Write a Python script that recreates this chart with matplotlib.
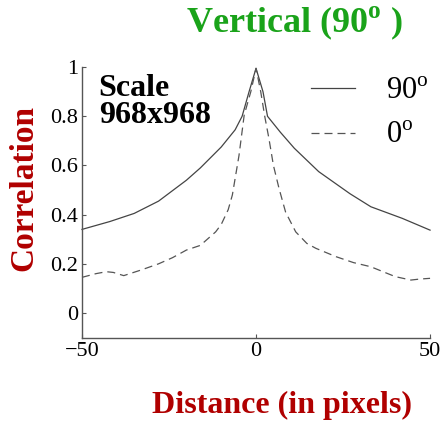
import matplotlib
matplotlib.use('Agg')
import numpy as np
import matplotlib.pyplot as plt

# datos
dist_90 = [-50, -42, -35, -28, -20, -16, -10, -6, -4, -2, 0, 2, 3.3, 7, 11, 18, 21.5, 27, 33, 42, 50]
corr_90 = [0.34, 0.372, 0.405, 0.455, 0.54, 0.59, 0.675, 0.745, 0.80, 0.90, 0.995, 0.90, 0.80,
           0.735, 0.67, 0.575, 0.54, 0.485, 0.432, 0.385, 0.337]

dist_0 = [-50, -46, -43, -41, -38, -33, -28, -24, -20, -16, -11.6, -10, -8, -6.8, -4.9, -3.4, -1.5, 0,
          1.35, 2.5, 3.7, 5, 6.6, 8.5, 11.4, 14.6, 17.2, 23, 28, 33, 37, 40, 44.5, 47, 50]
corr_0 = [0.145, 0.16, 0.168, 0.165, 0.152, 0.175, 0.20, 0.225, 0.256, 0.275, 0.33, 0.36, 0.42, 0.48,
          0.64, 0.805, 0.90, 0.995, 0.90, 0.80, 0.71, 0.60, 0.507, 0.41, 0.33, 0.283, 0.263, 0.229,
          0.205, 0.188, 0.165, 0.148, 0.134, 0.138, 0.141]

xticks = [-50, 0, 50]
yticks = [0, 0.2, 0.4, 0.6, 0.8, 1]
yticklabels = ['0', '0.2', '0.4', '0.6', '0.8', '1']

plt.rcParams['font.family'] = 'Liberation Serif'
plt.rcParams['mathtext.fontset'] = 'custom'
plt.rcParams['mathtext.rm'] = 'Liberation Serif'
plt.rcParams['mathtext.bf'] = 'Liberation Serif:bold'
plt.rcParams['axes.unicode_minus'] = True

fig = plt.figure(figsize=(4.42, 4.22), dpi=100)
ax = fig.add_axes([0.1855, 0.2, 0.7875, 0.641])

ax.plot(dist_90, corr_90, '-', color='#444444', lw=0.9, clip_on=False, label=r'90$^{\mathrm{o}}$')
ax.plot(dist_0, corr_0, '--', color='#555555', lw=0.9, dashes=(6.4, 4), clip_on=False,
        label=r'0$^{\mathrm{o}}$')

ax.set_xlim(-50, 50)
ax.set_ylim(-0.1, 1.0)
ax.set_xticks(xticks)
ax.set_yticks(yticks)
ax.set_yticklabels(yticklabels)
ax.tick_params(direction='in', length=3, width=0.8, color='#555555', labelsize=16, pad=3)
for s in ['top', 'right']:
    ax.spines[s].set_visible(False)
for s in ['left', 'bottom']:
    ax.spines[s].set_color('#555555')
    ax.spines[s].set_linewidth(1.0)

ax.text(0.048, 0.975, 'Scale\n968x968', transform=ax.transAxes, fontsize=23, fontweight='bold',
        va='top', ha='left', linespacing=0.9)

leg = ax.legend(loc='upper right', bbox_to_anchor=(1.075, 1.065), frameon=False, fontsize=22,
                handlelength=1.45, handletextpad=1.0, labelspacing=0.5)

fig.text(0.667, 0.924, r'Vertical (90$^{\mathbf{o}}$ )', color='#1aa31a', fontsize=26,
         fontweight='bold', ha='center', va='baseline')
fig.text(0.638, 0.022, 'Distance (in pixels)', color='#b00000', fontsize=23, fontweight='bold',
         ha='center', va='baseline')
fig.text(0.055, 0.555, 'Correlation', color='#b00000', fontsize=24, fontweight='bold',
         ha='center', va='center', rotation=90)

fig.savefig('out.png', dpi=100)
